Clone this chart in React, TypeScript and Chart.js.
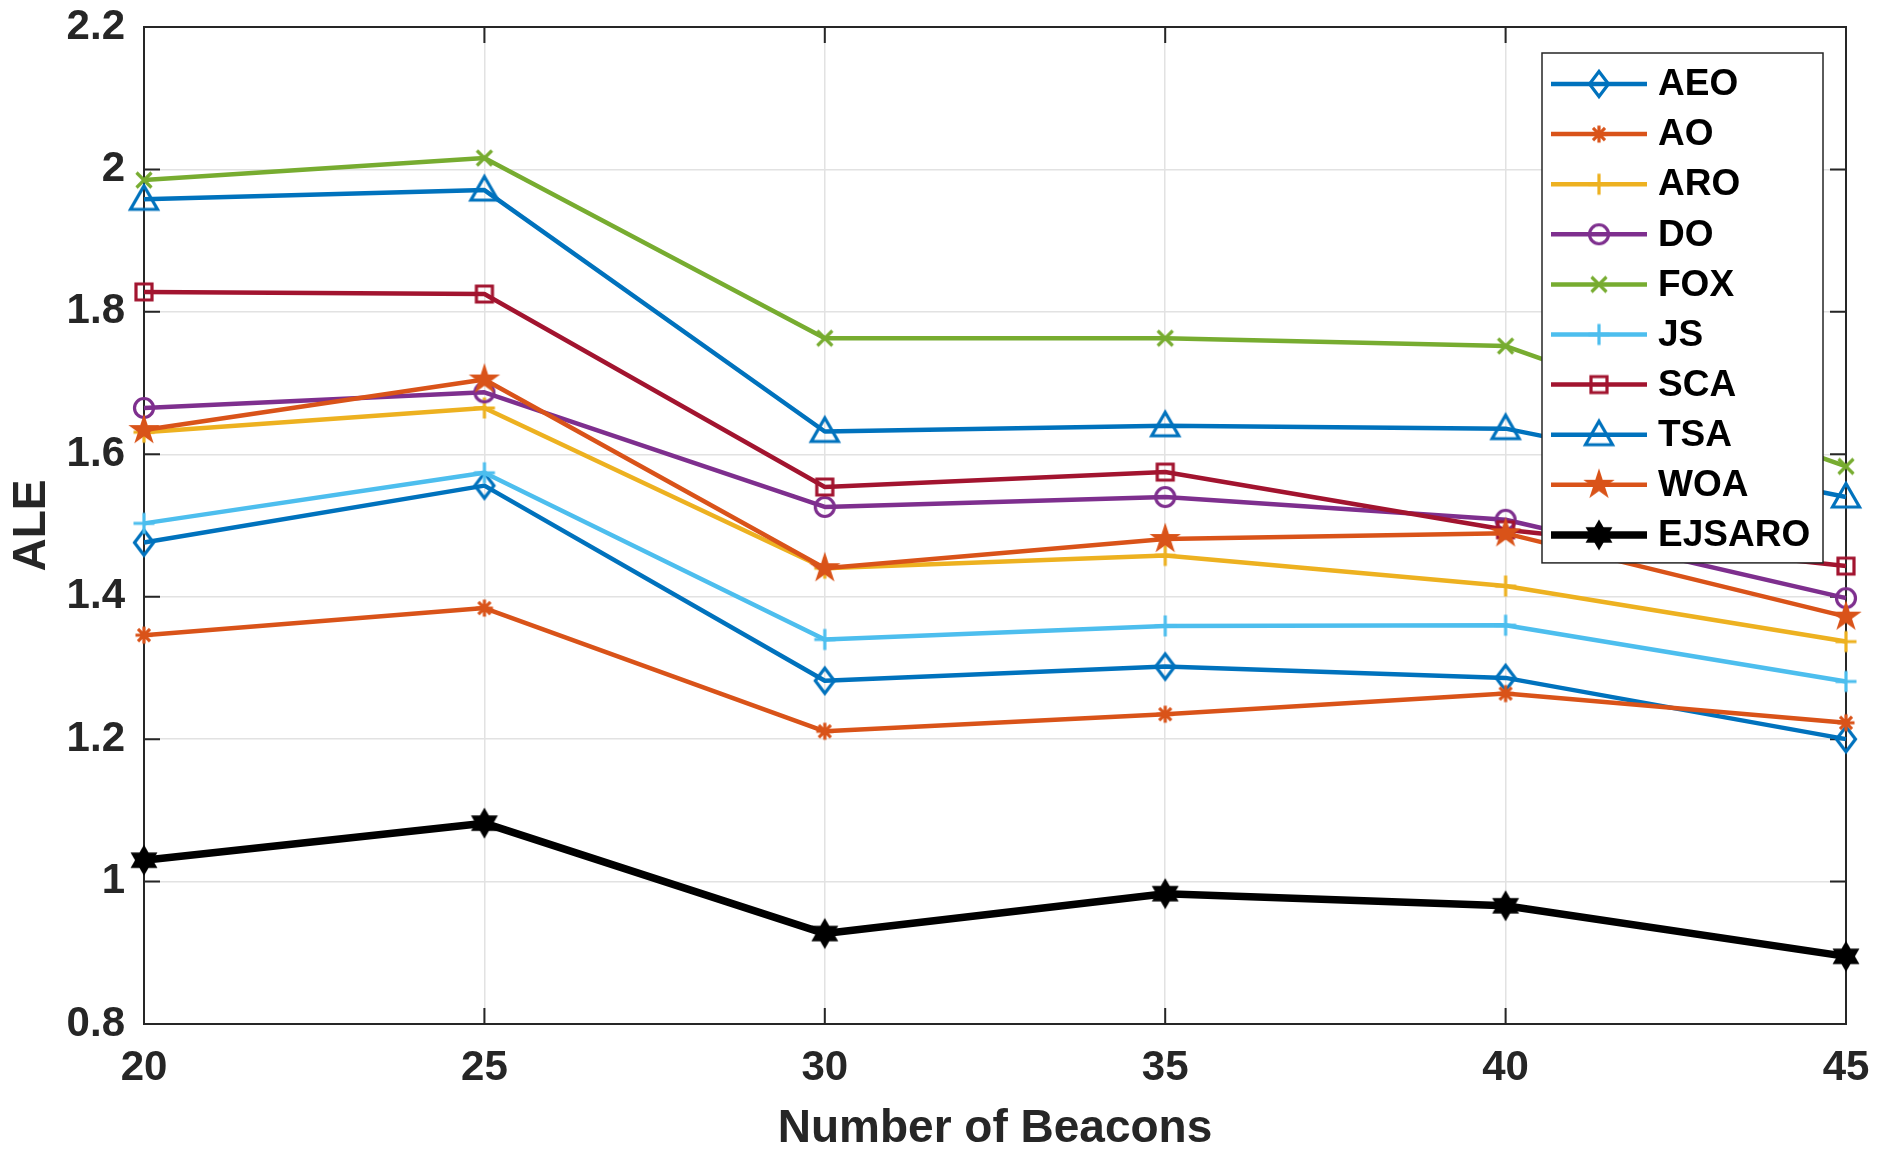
import React, { useEffect, useRef } from 'react';
import { Chart, registerables } from 'chart.js';

Chart.register(...registerables);

// ---------------- data ----------------
const beacons = [20, 25, 30, 35, 40, 45];
const seriesNames = ['AEO', 'AO', 'ARO', 'DO', 'FOX', 'JS', 'SCA', 'TSA', 'WOA', 'EJSARO'];

const AEO = [1.476, 1.556, 1.282, 1.302, 1.286, 1.2];
const AO = [1.346, 1.384, 1.211, 1.235, 1.264, 1.223];
const ARO = [1.631, 1.665, 1.44, 1.458, 1.415, 1.337];
const DO = [1.665, 1.687, 1.526, 1.54, 1.508, 1.398];
const FOX = [1.985, 2.016, 1.763, 1.763, 1.752, 1.583];
const JS = [1.503, 1.574, 1.34, 1.359, 1.36, 1.281];
const SCA = [1.828, 1.825, 1.554, 1.575, 1.494, 1.443];
const TSA = [1.958, 1.971, 1.632, 1.64, 1.636, 1.54];
const WOA = [1.634, 1.705, 1.44, 1.481, 1.489, 1.372];
const EJSARO = [1.03, 1.082, 0.927, 0.983, 0.966, 0.895];

const seriesValues = [AEO, AO, ARO, DO, FOX, JS, SCA, TSA, WOA, EJSARO];

const xTitle = 'Number of Beacons';
const yTitle = 'ALE';
const xMin = 20, xMax = 45, xStep = 5;
const yMin = 0.8, yMax = 2.2, yStep = 0.2;

// ---------------- styles ----------------
const colors = ['#0072BD', '#D95319', '#EDB120', '#7E2F8E', '#77AC30', '#4DBEEE', '#A2142F', '#0072BD', '#D95319', '#000000'];
const lineWidths = [4.5, 4.5, 4.5, 4.5, 4.5, 4.5, 4.5, 4.5, 4.5, 7.5];
const markerKinds = ['diamond', 'asterisk', 'plus', 'circle', 'x', 'plus', 'square', 'triangle', 'pentagram', 'hexagram'];

const FONT = "'Liberation Sans', Arial, Helvetica, sans-serif";
const TEXT = '#262626';
const W = 1881, H = 1155;

function makeMarker(kind: string, color: string): HTMLCanvasElement {
  const S = 44;
  const c = document.createElement('canvas');
  c.width = S;
  c.height = S;
  const g = c.getContext('2d')!;
  g.translate(S / 2, S / 2);
  g.strokeStyle = color;
  g.fillStyle = color;
  g.lineWidth = 3.2;
  g.lineJoin = 'miter';
  g.beginPath();
  switch (kind) {
    case 'diamond':
      g.moveTo(0, -12.5); g.lineTo(9.5, 0); g.lineTo(0, 12.5); g.lineTo(-9.5, 0); g.closePath();
      g.stroke();
      break;
    case 'asterisk':
      for (let k = 0; k < 4; k++) {
        const a = (k * Math.PI) / 4;
        g.moveTo(-8.5 * Math.cos(a), -8.5 * Math.sin(a));
        g.lineTo(8.5 * Math.cos(a), 8.5 * Math.sin(a));
      }
      g.stroke();
      break;
    case 'plus':
      g.moveTo(-10.5, 0); g.lineTo(10.5, 0); g.moveTo(0, -10.5); g.lineTo(0, 10.5);
      g.stroke();
      break;
    case 'circle':
      g.arc(0, 0, 9.5, 0, Math.PI * 2);
      g.stroke();
      break;
    case 'x':
      g.moveTo(-7.5, -7.5); g.lineTo(7.5, 7.5); g.moveTo(7.5, -7.5); g.lineTo(-7.5, 7.5);
      g.stroke();
      break;
    case 'square':
      g.rect(-8, -8, 16, 16);
      g.stroke();
      break;
    case 'triangle':
      g.moveTo(0, -13.5); g.lineTo(13.5, 10); g.lineTo(-13.5, 10); g.closePath();
      g.stroke();
      break;
    case 'pentagram': {
      const R = 16.5, r = R * 0.382;
      for (let k = 0; k < 10; k++) {
        const a = -Math.PI / 2 + (k * Math.PI) / 5;
        const rr = k % 2 === 0 ? R : r;
        if (k === 0) g.moveTo(rr * Math.cos(a), rr * Math.sin(a));
        else g.lineTo(rr * Math.cos(a), rr * Math.sin(a));
      }
      g.closePath();
      g.fill();
      break;
    }
    case 'hexagram': {
      const R = 15.5;
      for (const start of [-Math.PI / 2, Math.PI / 2]) {
        g.beginPath();
        for (let k = 0; k < 3; k++) {
          const a = start + (k * 2 * Math.PI) / 3;
          if (k === 0) g.moveTo(R * Math.cos(a), R * Math.sin(a));
          else g.lineTo(R * Math.cos(a), R * Math.sin(a));
        }
        g.closePath();
        g.fill();
      }
      break;
    }
  }
  return c;
}

const TICK_LEN = 16;

const framePlugin = {
  id: 'matlabFrame',
  beforeDatasetsDraw(chart: any) {
    const { ctx, chartArea: a, scales } = chart;
    const x = scales.x, y = scales.y;
    ctx.save();
    ctx.strokeStyle = TEXT;
    ctx.lineWidth = 2;
    ctx.strokeRect(a.left, a.top, a.right - a.left, a.bottom - a.top);
    ctx.beginPath();
    for (const t of x.ticks) {
      const px = x.getPixelForValue(t.value);
      ctx.moveTo(px, a.bottom); ctx.lineTo(px, a.bottom - TICK_LEN);
      ctx.moveTo(px, a.top); ctx.lineTo(px, a.top + TICK_LEN);
    }
    for (const t of y.ticks) {
      const py = y.getPixelForValue(t.value);
      ctx.moveTo(a.left, py); ctx.lineTo(a.left + TICK_LEN, py);
      ctx.moveTo(a.right, py); ctx.lineTo(a.right - TICK_LEN, py);
    }
    ctx.stroke();
    ctx.restore();
  },
};

const LEG = { offRight: 23, offTop: 26, width: 281, row: 50.1, first: 31, last: 28, line0: 9, line1: 105, textX: 116, font: 37 };

function makeLegendPlugin(markers: HTMLCanvasElement[]) {
  return {
    id: 'boxLegend',
    afterDatasetsDraw(chart: any) {
      const { ctx, chartArea: a } = chart;
      const ds = chart.data.datasets;
      const left = a.right - LEG.offRight - LEG.width;
      const top = a.top + LEG.offTop;
      const height = LEG.first + (ds.length - 1) * LEG.row + LEG.last;
      ctx.save();
      ctx.fillStyle = '#ffffff';
      ctx.fillRect(left, top, LEG.width, height);
      ctx.strokeStyle = '#262626';
      ctx.lineWidth = 1.5;
      ctx.strokeRect(left, top, LEG.width, height);
      ds.forEach((d: any, i: number) => {
        const cy = top + LEG.first + i * LEG.row;
        ctx.strokeStyle = d.borderColor;
        ctx.lineWidth = d.borderWidth;
        ctx.beginPath();
        ctx.moveTo(left + LEG.line0, cy);
        ctx.lineTo(left + LEG.line1, cy);
        ctx.stroke();
        const m = markers[i];
        const mx = left + (LEG.line0 + LEG.line1) / 2;
        ctx.drawImage(m, mx - m.width / 2, cy - m.height / 2);
        ctx.fillStyle = '#000000';
        ctx.font = `bold ${LEG.font}px ${FONT}`;
        ctx.textAlign = 'left';
        ctx.textBaseline = 'middle';
        ctx.fillText(d.label, left + LEG.textX, cy + 1);
      });
      ctx.restore();
    },
  };
}

export default function App() {
  const ref = useRef<HTMLCanvasElement>(null);

  useEffect(() => {
    const canvas = ref.current;
    if (!canvas) return;
    const markers = markerKinds.map((k, i) => makeMarker(k, colors[i]));

    const datasets = seriesNames.map((name, i) => ({
      label: name,
      data: beacons.map((b, j) => ({ x: b, y: seriesValues[i][j] })),
      borderColor: colors[i],
      backgroundColor: colors[i],
      borderWidth: lineWidths[i],
      borderJoinStyle: 'round' as const,
      pointStyle: markers[i] as any,
      pointRadius: 8,
      pointHoverRadius: 8,
      tension: 0,
      clip: false as any,
      order: seriesNames.length - i,
    }));

    const chart = new Chart(canvas, {
      type: 'line',
      data: { datasets },
      options: {
        animation: false,
        responsive: false,
        devicePixelRatio: 1,
        events: [],
        layout: { padding: { top: 27, right: 35, left: 0, bottom: 0 } },
        plugins: { legend: { display: false }, tooltip: { enabled: false } },
        scales: {
          x: {
            type: 'linear',
            min: xMin,
            max: xMax,
            afterFit: (s: any) => { s.height = 131; s.paddingLeft = 0; s.paddingRight = 0; },
            ticks: {
              stepSize: xStep,
              padding: 19,
              color: TEXT,
              font: { family: FONT, size: 42, weight: 'bold' },
              callback: (v: any) => String(v),
            },
            grid: { color: '#e2e2e2', lineWidth: 1.5, drawTicks: false },
            border: { display: false },
            title: {
              display: true,
              text: xTitle,
              color: TEXT,
              font: { family: FONT, size: 46, weight: 'bold', lineHeight: 1 },
              padding: { top: 0, bottom: 3 },
            },
          },
          y: {
            type: 'linear',
            min: yMin,
            max: yMax,
            afterFit: (s: any) => { s.width = 144; s.paddingTop = 0; s.paddingBottom = 0; },
            ticks: {
              stepSize: yStep,
              padding: 19,
              color: TEXT,
              font: { family: FONT, size: 42, weight: 'bold' },
              callback: (v: any) => String(Math.round(Number(v) * 10) / 10),
            },
            grid: { color: '#e2e2e2', lineWidth: 1.5, drawTicks: false },
            border: { display: false },
            title: {
              display: true,
              text: yTitle,
              color: TEXT,
              font: { family: FONT, size: 46, weight: 'bold', lineHeight: 1 },
              padding: { top: 9, bottom: 0 },
            },
          },
        },
      },
      plugins: [framePlugin, makeLegendPlugin(markers)],
    });

    return () => chart.destroy();
  }, []);

  return (
    <div style={{ position: 'absolute', left: 0, top: 0, width: W, height: H, background: '#ffffff' }}>
      <canvas ref={ref} width={W} height={H} style={{ width: W, height: H, display: 'block' }} />
    </div>
  );
}
